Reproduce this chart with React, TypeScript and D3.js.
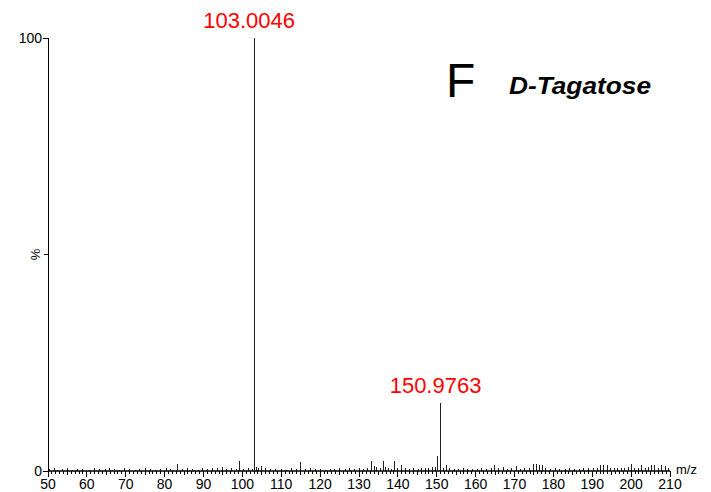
import React from 'react';
import * as d3 from 'd3';

// m/z and relative intensity (%)
const peakMz = [
  50.5, 51.6, 52.4, 53.8, 55.1, 56.3, 57.7, 59.0, 60.6, 61.9, 63.2, 64.8, 65.9, 67.1, 68.5, 69.8,
  71.0, 72.4, 73.6, 75.0, 76.3, 77.7, 79.0, 80.4, 81.6, 83.2, 84.5, 85.9, 87.1, 88.6, 89.8, 91.0,
  92.3, 93.5, 94.8, 96.0, 97.2, 98.5, 99.2, 100.4, 101.7, 102.5, 103.0046, 103.6, 104.2, 105.0,
  106.0, 107.3, 108.5, 110.0, 111.4, 112.6, 113.8, 115.0, 116.2, 117.5, 118.7, 120.0, 121.3, 122.6,
  123.8, 125.1, 126.4, 127.6, 128.8, 130.0, 131.2, 132.2, 133.1, 134.0, 134.6, 135.5, 136.2, 136.9,
  137.6, 138.4, 139.1, 140.0, 140.9, 142.0, 143.0, 144.1, 145.3, 146.2, 147.0, 147.9, 148.8, 149.6,
  150.1, 150.9763, 151.7, 152.6, 153.4, 154.5, 155.6, 156.8, 158.0, 159.2, 160.4, 161.6, 162.8,
  164.0, 164.9, 166.0, 167.1, 168.2, 169.3, 170.5, 171.6, 172.7, 173.8, 174.9, 175.6, 176.4, 177.2,
  178.1, 179.3, 180.5, 181.7, 183.0, 184.2, 185.4, 186.6, 187.8, 189.0, 190.2, 191.3, 192.2, 193.0,
  193.8, 194.7, 195.6, 196.5, 197.4, 198.3, 199.2, 200.0, 200.9, 201.8, 202.7, 203.6, 204.4, 205.3,
  206.1, 207.0, 207.9, 208.8, 209.6,
];
const peakIntensity = [
  0.4, 0.6, 0.3, 0.5, 0.7, 0.3, 0.5, 0.4, 0.3, 0.6, 0.4, 0.5, 0.8, 0.4, 0.3, 0.6,
  0.5, 0.3, 0.4, 0.6, 0.4, 0.3, 0.5, 0.6, 0.4, 1.6, 0.5, 0.7, 0.4, 0.3, 0.6, 0.5,
  0.8, 0.6, 0.9, 0.5, 0.7, 0.4, 2.4, 0.5, 0.6, 0.4, 100, 0.9, 0.6, 1.2,
  0.8, 0.5, 0.4, 0.5, 0.3, 0.6, 0.5, 2.0, 0.5, 0.6, 0.4, 0.5, 0.3, 0.5,
  0.4, 0.6, 0.5, 0.7, 0.4, 0.6, 0.5, 0.8, 2.3, 1.2, 1.0, 0.7, 2.3, 1.0,
  0.8, 0.5, 2.3, 0.7, 1.4, 0.6, 0.5, 0.7, 0.4, 0.6, 0.8, 0.7, 0.9, 1.0,
  3.5, 15.7, 0.8, 1.3, 0.6, 0.5, 0.4, 0.6, 0.5, 0.4, 0.5, 0.6, 0.4,
  0.7, 1.4, 0.6, 1.0, 0.5, 0.6, 1.1, 0.5, 0.7, 0.6, 1.6, 1.6, 1.5, 1.4,
  0.8, 0.5, 0.6, 0.4, 0.5, 0.6, 0.4, 0.5, 0.6, 0.7, 0.6, 0.8, 1.4, 1.5,
  1.3, 0.8, 0.6, 0.7, 0.8, 0.6, 0.9, 1.6, 0.7, 0.8, 1.5, 0.6, 0.9, 1.4,
  1.5, 0.8, 1.4, 1.2, 0.6,
];
const labelledPeaks = [
  { mz: 103.0046, text: '103.0046' },
  { mz: 150.9763, text: '150.9763' },
];
const xTickValues = d3.range(50, 211, 10);

const W = 711;
const H = 492;
const font = '"Liberation Sans", Arial, sans-serif';

export default function App() {
  const x = d3.scaleLinear().domain([50, 210]).range([48, 670]);
  const y = d3.scaleLinear().domain([0, 100]).range([471, 38]);
  const minor = d3.range(50, 211, 1);
  const intensityOf = (mz: number) => peakIntensity[peakMz.indexOf(mz)];

  return (
    <svg width={W} height={H} style={{ position: 'absolute', left: 0, top: 0, background: '#fff' }}>
      {/* peaks */}
      {peakMz.map((mz, i) => (
        <line key={i} x1={x(mz)} x2={x(mz)} y1={y(0)} y2={y(peakIntensity[i])}
          stroke="#222" strokeWidth={1} shapeRendering="crispEdges" />
      ))}
      {/* y axis */}
      <line x1={x(50)} x2={x(50)} y1={y(0)} y2={y(100)} stroke="#000" shapeRendering="crispEdges" />
      <line x1={x(50) - 5} x2={x(50)} y1={y(100)} y2={y(100)} stroke="#000" shapeRendering="crispEdges" />
      <line x1={x(50) - 4} x2={x(50)} y1={y(50)} y2={y(50)} stroke="#000" shapeRendering="crispEdges" />
      <line x1={x(50) - 5} x2={x(50)} y1={y(0)} y2={y(0)} stroke="#000" shapeRendering="crispEdges" />
      <text x={x(50) - 6} y={y(100) + 5} fontSize={14} fontFamily={font} textAnchor="end">100</text>
      <text x={x(50) - 6} y={y(0) + 5} fontSize={14} fontFamily={font} textAnchor="end">0</text>
      <text transform={`translate(${x(50) - 8},${y(50)}) rotate(-90)`} fontSize={13}
        fontFamily={font} textAnchor="middle">%</text>
      {/* x axis */}
      <line x1={x(50)} x2={x(210)} y1={y(0)} y2={y(0)} stroke="#000" strokeWidth={1.5} />
      {minor.map((v) => (
        <line key={v} x1={x(v)} x2={x(v)} y1={y(0)} y2={y(0) + (v % 10 === 0 ? 6 : v % 5 === 0 ? 4 : 3)}
          stroke="#000" shapeRendering="crispEdges" />
      ))}
      {xTickValues.map((v) => (
        <text key={v} x={x(v)} y={489} fontSize={14} fontFamily={font} textAnchor="middle">{v}</text>
      ))}
      <text x={x(210) + 6} y={y(0) + 3} fontSize={13} fontFamily={font}>m/z</text>
      {/* peak annotations */}
      {labelledPeaks.map((p) => (
        <text key={p.text} x={x(p.mz) - 5} y={y(intensityOf(p.mz)) - 10} fontSize={22}
          fontFamily={font} fill="#ff0000" textAnchor="middle">{p.text}</text>
      ))}
      <text x={446} y={97} fontSize={48} fontFamily={font}>F</text>
      <text x={509} y={94} fontSize={23} fontFamily={font} fontWeight="bold" fontStyle="italic"
        textLength={142} lengthAdjust="spacingAndGlyphs">D-Tagatose</text>
    </svg>
  );
}
